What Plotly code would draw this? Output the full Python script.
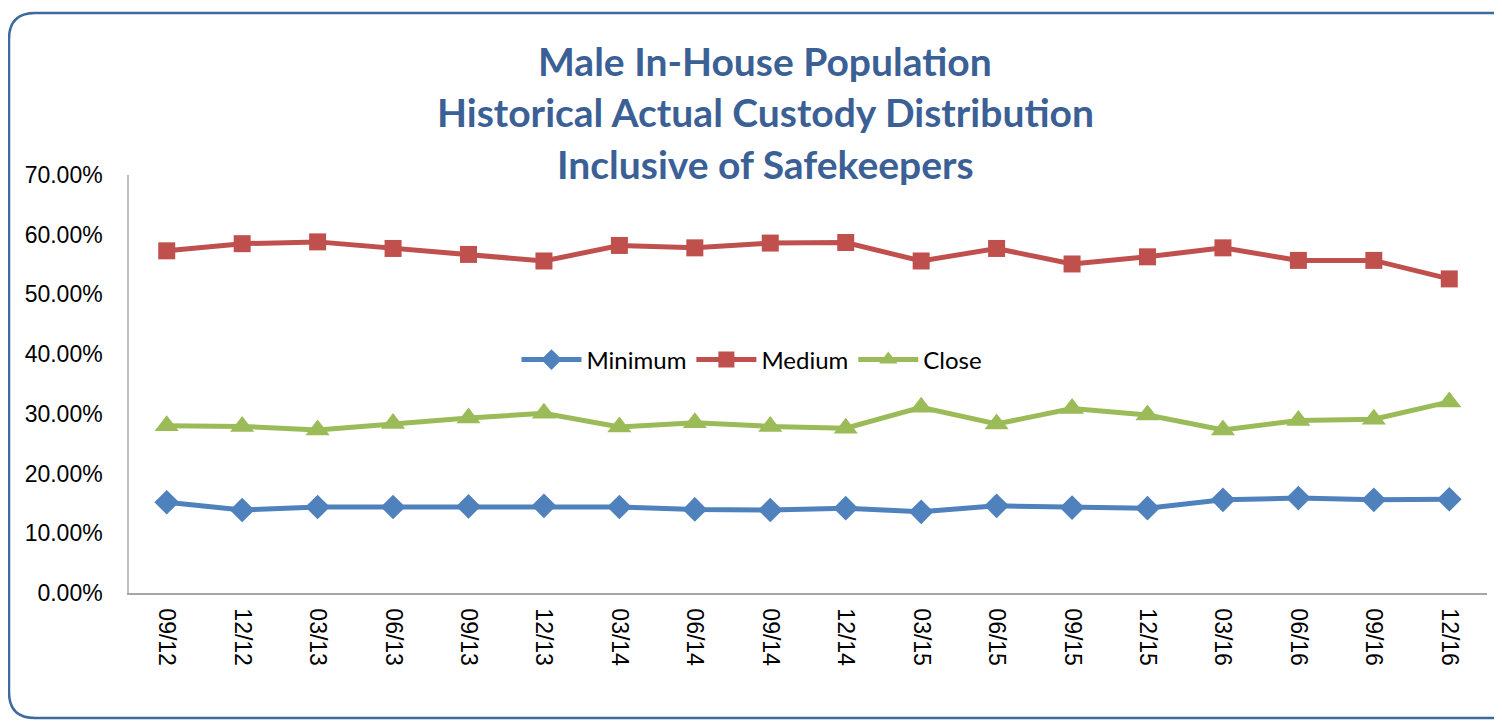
import plotly.graph_objects as go

categories = ["09/12", "12/12", "03/13", "06/13", "09/13", "12/13", "03/14", "06/14", "09/14",
              "12/14", "03/15", "06/15", "09/15", "12/15", "03/16", "06/16", "09/16", "12/16"]
minimum = [0.152, 0.139, 0.144, 0.144, 0.145, 0.146, 0.144, 0.140, 0.139,
           0.142, 0.136, 0.146, 0.143, 0.142, 0.156, 0.159, 0.156, 0.157]
medium = [0.573, 0.585, 0.588, 0.577, 0.567, 0.556, 0.582, 0.578, 0.586,
          0.587, 0.556, 0.577, 0.551, 0.563, 0.578, 0.557, 0.557, 0.526]
close = [0.280, 0.279, 0.273, 0.284, 0.293, 0.301, 0.278, 0.285, 0.279,
         0.276, 0.311, 0.283, 0.309, 0.298, 0.273, 0.289, 0.291, 0.320]
series_names = ["Minimum", "Medium", "Close"]
colors = ["#4F81BD", "#C0504D", "#9BBB59"]
symbols = ["diamond", "square", "triangle-up"]
marker_sizes = [19, 17, 21]
title_lines = ["Male In-House Population", "Historical Actual Custody Distribution",
               "Inclusive of Safekeepers"]
y_ticks = [0, 0.1, 0.2, 0.3, 0.4, 0.5, 0.6, 0.7]

OFF = 8  # browser body margin
W, H = 1502 - OFF, 722 - OFF
L, T = 129 - OFF, 175 - OFF
R = W - (1487 - OFF)
B = H - (593 - OFF)
pw, ph = W - L - R, H - T - B

def px(sx):
    return (sx - OFF - L) / pw

def py(sy):
    return (H - B - (sy - OFF)) / ph

fig = go.Figure()
for name, vals, c, s, ms in zip(series_names, [minimum, medium, close], colors, symbols, marker_sizes):
    fig.add_trace(go.Scatter(
        x=categories, y=vals, name=name, mode="lines+markers",
        line=dict(color=c, width=5),
        marker=dict(symbol=s, size=ms, color=c),
    ))

# rounded border (screen coordinates)
x0, y0, x1, y1, r = 9, 13, 1530, 718, 26
path = (f"M {px(x0)},{py(y0 + r)} Q {px(x0)},{py(y0)} {px(x0 + r)},{py(y0)} "
        f"L {px(x1)},{py(y0)} M {px(x0)},{py(y0 + r)} L {px(x0)},{py(y1 - r)} "
        f"Q {px(x0)},{py(y1)} {px(x0 + r)},{py(y1)} L {px(x1)},{py(y1)}")
fig.add_shape(type="path", xref="paper", yref="paper", path=path,
              line=dict(color="#3E6AA0", width=2.5), layer="below")

title_y = [61, 112, 164]
annotations = []
for t, yy in zip(title_lines, title_y):
    annotations.append(dict(text=f"<b>{t}</b>", x=px(765), y=py(yy), xref="paper", yref="paper",
                            showarrow=False, xanchor="center", yanchor="middle",
                            font=dict(family="Lato", size=39, color="#3B6095")))

fig.update_layout(
    width=W, height=H,
    margin=dict(l=L, r=R, t=T, b=B),
    paper_bgcolor="white", plot_bgcolor="white",
    annotations=annotations,
    showlegend=True,
    legend=dict(orientation="h", x=px(752), y=py(360), xanchor="center", yanchor="middle",
                font=dict(family="Lato", size=24, color="black"), bgcolor="rgba(0,0,0,0)",
                itemwidth=60),
    xaxis=dict(type="category", tickangle=90, showgrid=False, showline=True,
               linecolor="#A6A6A6", linewidth=1.5, ticks="outside", ticklen=9,
               tickcolor="rgba(0,0,0,0)", range=[-0.5, 17.5],
               tickfont=dict(family="Liberation Sans", size=23, color="black")),
    yaxis=dict(range=[0, 0.7], tickvals=y_ticks, tickformat=".2%", showgrid=False,
               showline=True, linecolor="#BFBFBF", linewidth=1.5, ticks="outside",
               ticklen=20, tickcolor="rgba(0,0,0,0)", zeroline=False,
               tickfont=dict(family="Liberation Sans", size=23, color="black")),
)

fig.write_html("out.html")
